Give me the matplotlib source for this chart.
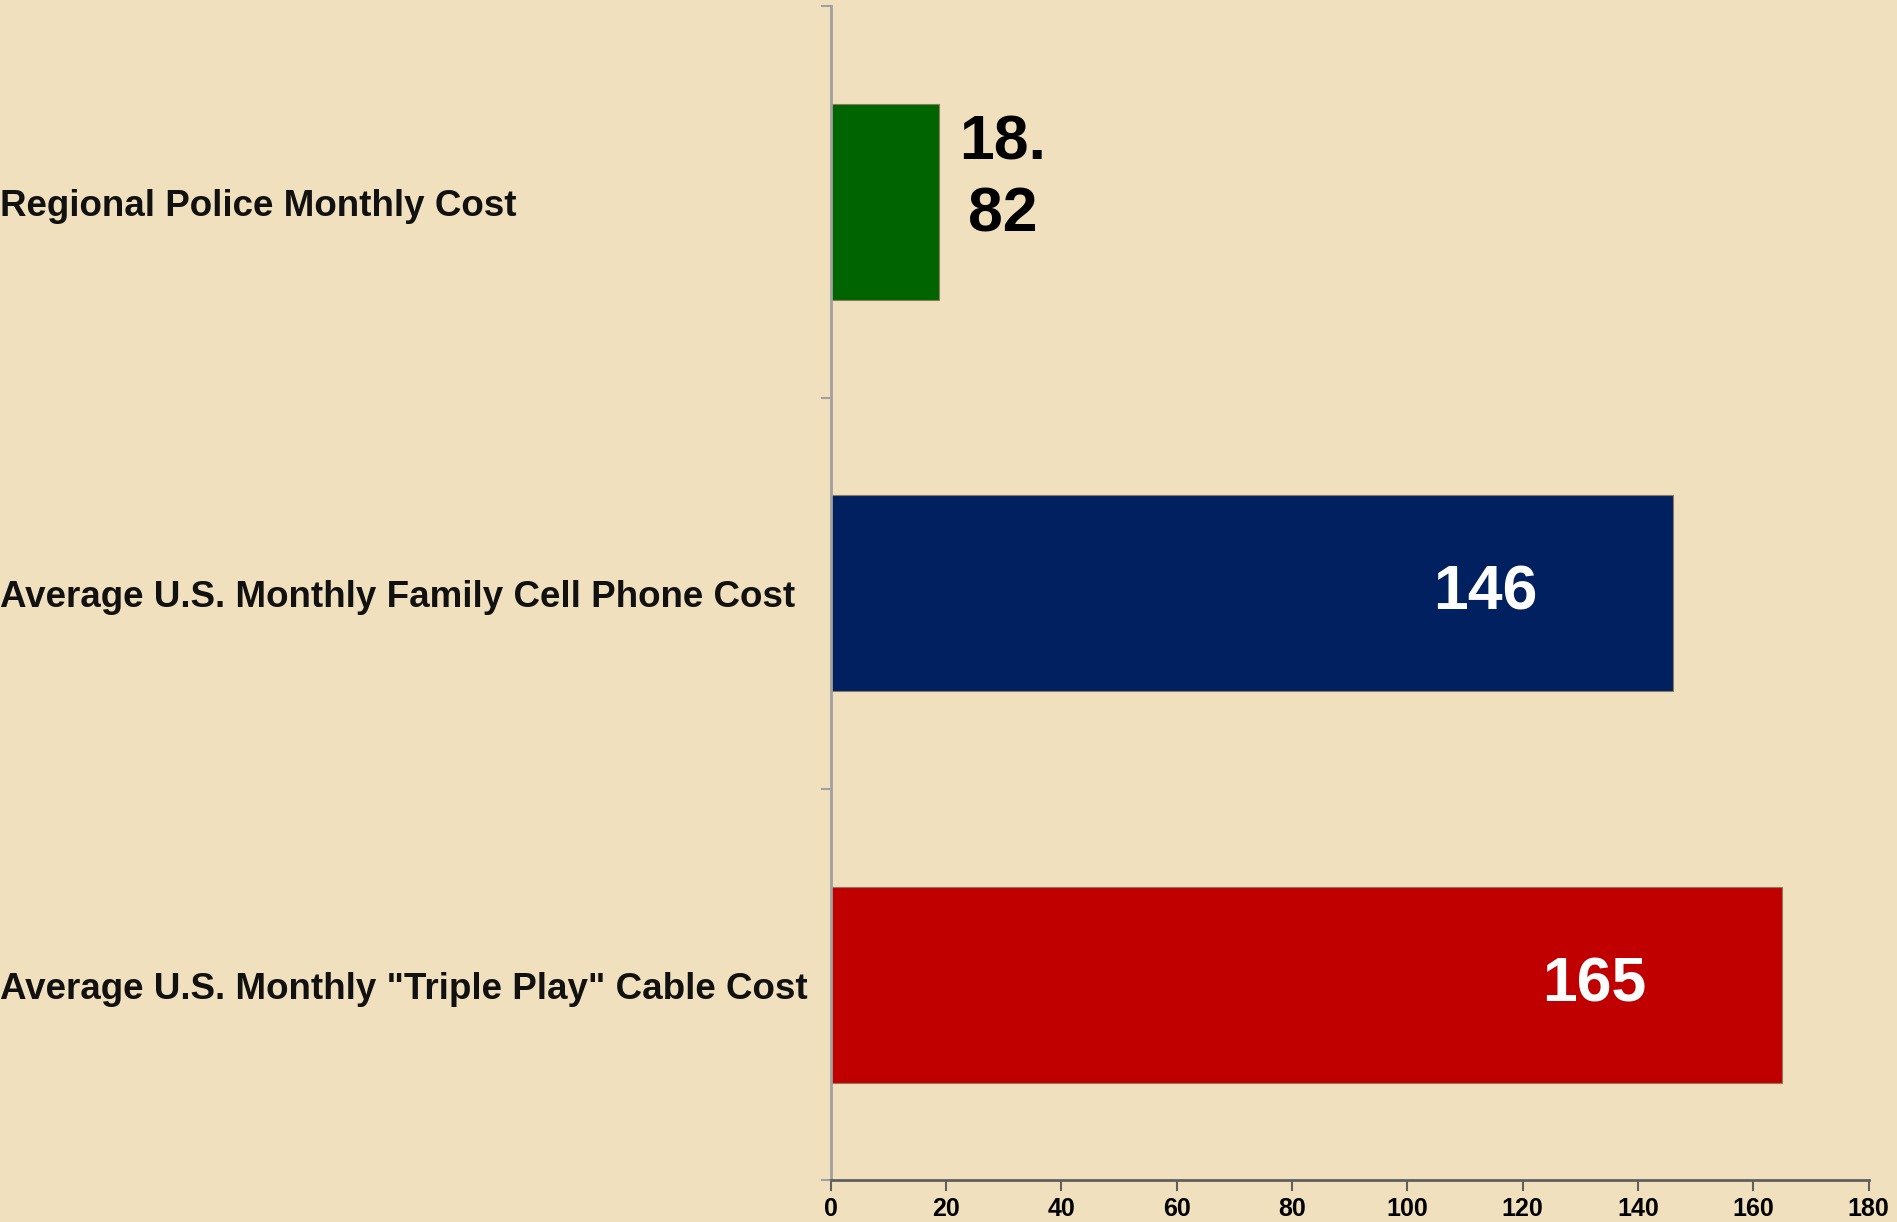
import matplotlib
matplotlib.use("Agg")
import matplotlib.pyplot as plt
import numpy as np

categories = ["Regional Police Monthly Cost",
              "Average U.S. Monthly Family Cell Phone Cost",
              "Average U.S. Monthly \"Triple Play\" Cable Cost"]
values = [18.82, 146, 165]
value_labels = ["18.\n82", "146", "165"]
bar_colors = ["#006400", "#002060", "#C00000"]
label_colors = ["black", "white", "white"]
label_inside = [False, True, True]
xticks = [0, 20, 40, 60, 80, 100, 120, 140, 160, 180]

bg = "#F0E0BE"
narrow = ["Liberation Sans Narrow", "Liberation Sans", "DejaVu Sans"]
sans = ["Liberation Sans", "DejaVu Sans"]

fig = plt.figure(figsize=(18.97, 12.22), dpi=100, facecolor=bg)
ax = fig.add_axes([0.438, 0.034, 0.547, 0.961])
ax.set_facecolor("none")

ypos = np.arange(len(categories))
ax.barh(ypos, values, height=0.5, color=bar_colors, edgecolor="#8a7a60", linewidth=0.8)
ax.set_ylim(2.5, -0.5)
ax.set_xlim(0, 180)

for i, (v, lab) in enumerate(zip(values, value_labels)):
    if label_inside[i]:
        x, y = v - 32.5, ypos[i]
    else:
        x, y = v + 11, ypos[i] - 0.058
    ax.text(x, y, lab, ha="center", va="center", color=label_colors[i],
            fontsize=45, fontweight="bold", family=sans, linespacing=1.27)

# y axis: ticks at category boundaries, labels placed at figure left
ax.set_yticks(np.arange(-0.5, len(categories), 1.0))
ax.set_yticklabels([])
ax.tick_params(axis="y", direction="out", length=7, color="#A0A0A0", width=1.5)
for i, c in enumerate(categories):
    ax.annotate(c, xy=(0, ypos[i] + 0.012), xycoords=("figure fraction", "data"),
                ha="left", va="center", fontsize=26.5, fontweight="bold",
                family=sans, color="#111111")

ax.set_xticks(xticks)
ax.set_xticklabels([str(t) for t in xticks], fontsize=18, fontweight="bold", family=narrow)
ax.tick_params(axis="x", direction="out", length=8, color="#606060", width=1.5, pad=4)

for s in ["top", "right"]:
    ax.spines[s].set_visible(False)
ax.spines["left"].set_color("#A0A0A0")
ax.spines["left"].set_linewidth(2)
ax.spines["bottom"].set_color("#606060")
ax.spines["bottom"].set_linewidth(2)

fig.savefig("out.png", dpi=100, facecolor=bg)
